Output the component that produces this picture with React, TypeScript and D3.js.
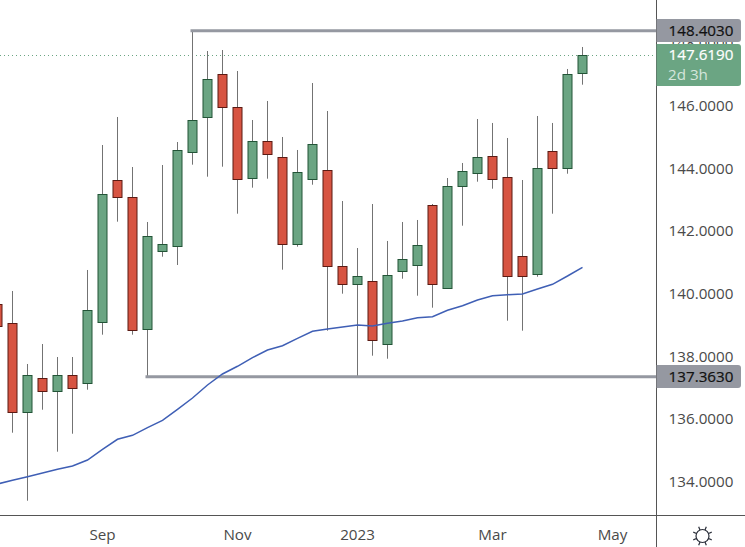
import * as d3 from "d3";
import React from "react";

const opens = [139.649, 139.065, 136.224, 137.31, 136.895, 137.405, 137.15, 139.097, 143.629, 143.086, 138.873, 141.363, 141.522, 144.522, 145.639, 147.012, 145.959, 143.693, 144.873, 144.363, 141.586, 143.661, 143.948, 140.884, 140.31, 140.405, 138.395, 140.725, 140.916, 142.831, 140.182, 143.437, 143.852, 144.395, 143.725, 141.203, 140.629, 144.554, 144.012, 147.044];
const highs = [139.968, 140.096, 137.766, 138.404, 137.989, 137.989, 140.766, 144.755, 145.649, 144.053, 142.298, 144.117, 144.851, 148.403, 147.755, 147.787, 147.117, 145.553, 146.16, 145.011, 144.596, 146.734, 145.84, 142.968, 141.468, 142.872, 141.692, 142.298, 142.362, 142.872, 143.702, 144.181, 145.585, 145.458, 144.979, 143.638, 145.681, 145.458, 147.181, 147.883];
const lows = [138.532, 135.573, 133.403, 136.307, 134.967, 135.541, 136.946, 138.701, 142.308, 138.701, 137.363, 141.19, 140.926, 144.127, 143.744, 144.063, 142.563, 143.393, 143.68, 140.776, 141.51, 143.488, 138.829, 140.01, 137.363, 138.031, 137.935, 140.488, 139.946, 139.563, 140.182, 142.18, 143.584, 143.361, 139.148, 138.829, 140.552, 142.563, 143.839, 146.68];
const closes = [138.947, 136.234, 137.405, 136.895, 137.405, 136.99, 139.48, 143.182, 143.086, 138.841, 141.841, 141.586, 144.586, 145.544, 146.852, 145.959, 143.661, 144.873, 144.459, 141.586, 143.884, 144.778, 140.884, 140.31, 140.565, 138.522, 140.597, 141.107, 141.554, 140.31, 143.437, 143.916, 144.363, 143.661, 140.565, 140.565, 144.012, 144.012, 147.012, 147.619];
const movingAvg = [133.936, 134.054, 134.169, 134.287, 134.405, 134.511, 134.702, 135.044, 135.363, 135.49, 135.733, 135.969, 136.32, 136.681, 137.096, 137.447, 137.693, 137.967, 138.213, 138.35, 138.586, 138.81, 138.883, 138.947, 139.011, 138.979, 139.065, 139.138, 139.244, 139.276, 139.48, 139.627, 139.809, 139.946, 139.978, 140, 140.16, 140.31, 140.574, 140.852];

const priceTicks = [148, 146, 144, 142, 140, 138, 136, 134];
const timeLabels = ["Sep", "Nov", "2023", "Mar", "May"];
const timeLabelBars = [7, 16, 24, 33, 41];

const lastPrice = 147.619;
const levelHigh = 148.403;
const levelLow = 137.363;
const levelHighBar = 13;
const levelLowBar = 10;
const countdown = "2d 3h";

const W = 745;
const H = 547;
const axisX = 656.5;
const axisY = 515.5;
const font = "'Open Sans', sans-serif";
const labelSize = 15.2;

const GREEN = "#6ba583";
const GREEN_DARK = "#225437";
const RED = "#d75442";
const RED_DARK = "#5b1a13";
const LEVEL = "#9598a1";
const AXIS = "#555555";

const x = d3.scaleLinear().domain([0, 41]).range([-2.5, 612.5]);
const y = d3.scaleLinear().domain([134, 146]).range([482, 106]);
const crisp = (v: number) => Math.floor(v) + 0.5;

const maLine = d3.line<number>().x((_, i) => x(i)).y(d => y(d));

function PriceTag({ value, top, height, fill, color, text, sub }: { value: number; top: number; height: number; fill: string; color: string; text: string; sub?: string }) {
    const l = axisX, r = 741, t = top, b = top + height, c = 3;
    return (
        <g>
            <path d={`M${l},${t}H${r - c}Q${r},${t} ${r},${t + c}V${b - c}Q${r},${b} ${r - c},${b}H${l}Z`} fill={fill} />
            <text x={701} y={y(value) + 1} textAnchor="middle" dominantBaseline="middle" fill={color} fontSize={labelSize} stroke={color} strokeWidth={0.2}>{text}</text>
            {sub && <text x={668} y={top + 32} dominantBaseline="middle" fill="#d5e6dc" fontSize={labelSize}>{sub}</text>}
        </g>
    );
}

export default function App() {
    const sun = d3.range(8).map(i => (i * Math.PI) / 4 + Math.PI / 8);
    return (
        <svg width={W} height={H} viewBox={`0 0 ${W} ${H}`} fontFamily={font} style={{ position: "absolute", left: 0, top: 0, background: "#fff" }}>
            <line x1={0} x2={axisX} y1={crisp(y(lastPrice))} y2={crisp(y(lastPrice))} stroke={GREEN} strokeDasharray="1 3" />

            {opens.map((o, i) => {
                const up = closes[i] >= o;
                const cx = x(i);
                const top = crisp(y(Math.max(o, closes[i])));
                const bottom = crisp(y(Math.min(o, closes[i])));
                return (
                    <g key={i}>
                        <line x1={cx} x2={cx} y1={y(highs[i])} y2={y(lows[i])} stroke="#737373" />
                        <rect x={cx - 4.5} y={top} width={9} height={bottom - top} fill={up ? GREEN : RED} stroke={up ? GREEN_DARK : RED_DARK} />
                    </g>
                );
            })}

            <line x1={x(levelHighBar) - 2} x2={axisX} y1={y(levelHigh)} y2={y(levelHigh)} stroke={LEVEL} strokeWidth={3} />
            <line x1={x(levelLowBar) - 2} x2={axisX} y1={y(levelLow)} y2={y(levelLow)} stroke={LEVEL} strokeWidth={3} />

            <path d={maLine(movingAvg) ?? undefined} fill="none" stroke="#3f5fb5" strokeWidth={1.5} />

            <line x1={axisX} x2={axisX} y1={0} y2={H} stroke={AXIS} />
            <line x1={0} x2={W} y1={axisY} y2={axisY} stroke={AXIS} />

            {priceTicks.map(t => (
                <text key={t} x={701} y={y(t) + 1} textAnchor="middle" dominantBaseline="middle" fill="#4a4a4a" fontSize={labelSize}>{t.toFixed(4)}</text>
            ))}
            {timeLabels.map((t, i) => (
                <text key={t} x={x(timeLabelBars[i])} y={535.5} textAnchor="middle" dominantBaseline="middle" fill="#4a4a4a" fontSize={labelSize}>{t}</text>
            ))}

            <PriceTag value={levelHigh} top={19} height={23} fill={LEVEL} color="#111" text={levelHigh.toFixed(4)} />
            <PriceTag value={lastPrice} top={44} height={42} fill={GREEN} color="#fff" text={lastPrice.toFixed(4)} sub={countdown} />
            <PriceTag value={levelLow} top={365} height={23} fill={LEVEL} color="#111" text={levelLow.toFixed(4)} />

            <g transform="translate(702.5,536)" fill="none" stroke="#2a2e39" strokeWidth={1.2}>
                <circle r={6.5} />
                {sun.map((a, i) => (
                    <line key={i} x1={Math.cos(a) * 6.5} y1={Math.sin(a) * 6.5} x2={Math.cos(a) * 10} y2={Math.sin(a) * 10} />
                ))}
            </g>
        </svg>
    );
}
